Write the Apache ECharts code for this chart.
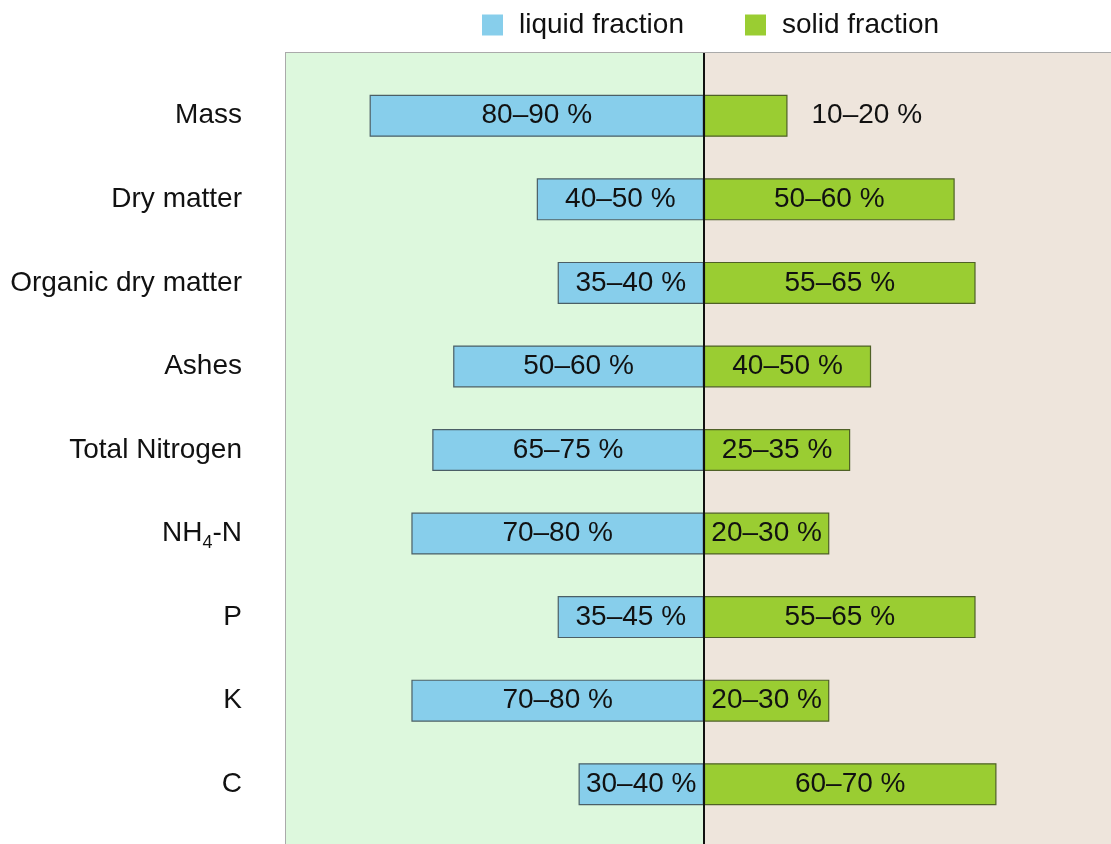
<!DOCTYPE html>
<html>
<head>
<meta charset="utf-8">
<script src="https://cdn.jsdelivr.net/npm/echarts@6/dist/echarts.min.js"></script>
<style>
  html, body { margin: 0; padding: 0; background: #fff; }
  #chart { width: 1111px; height: 844px; }
</style>
</head>
<body>
<div id="chart"></div>
<script>
  // categories, top to bottom
  var categories = ['Mass', 'Dry matter', 'Organic dry matter', 'Ashes', 'Total Nitrogen', 'NH4-N', 'P', 'K', 'C'];
  // bar lengths in % (liquid drawn to the left)
  var liquidValues = [80, 40, 35, 60, 65, 70, 35, 70, 30];
  var solidValues = [20, 60, 65, 40, 35, 30, 65, 30, 70];
  // range labels printed on the bars
  var liquidLabels = ['80–90 %', '40–50 %', '35–40 %', '50–60 %', '65–75 %', '70–80 %', '35–45 %', '70–80 %', '30–40 %'];
  var solidLabels = ['10–20 %', '50–60 %', '55–65 %', '40–50 %', '25–35 %', '20–30 %', '55–65 %', '20–30 %', '60–70 %'];

  var font = 'Liberation Sans, Arial, sans-serif';
  var fs = 28;
  var xMax = 97.4; // right panel is cut by the page edge
  var myChart = echarts.init(document.getElementById('chart'));

  var liquidData = liquidValues.map(function (v, i) {
    return { value: -v, label: { formatter: liquidLabels[i] } };
  });
  var solidData = solidValues.map(function (v, i) {
    var d = { value: v, label: { formatter: solidLabels[i] } };
    if (v < 25) { d.label.position = 'right'; d.label.distance = 24; } // too short for text
    return d;
  });

  var option = {
    animation: false,
    textStyle: { fontFamily: font },
    legend: {
      left: 477,
      top: 6,
      itemWidth: 21,
      itemHeight: 21,
      itemGap: 61,
      icon: 'rect',
      itemStyle: { borderWidth: 0 },
      textStyle: { fontSize: fs, color: '#111', fontFamily: font, padding: [0, 0, 0, 11] },
      data: ['liquid fraction', 'solid fraction']
    },
    grid: [
      // panel background
      { left: 286, top: 53, right: 0, bottom: -10, show: true, borderColor: '#aaaaaa', borderWidth: 2 },
      // bars
      { left: 286, top: 74, right: 0, height: 752 }
    ],
    xAxis: [
      { gridIndex: 0, type: 'value', min: -100, max: xMax, show: false },
      { gridIndex: 1, type: 'value', min: -100, max: xMax, show: false }
    ],
    yAxis: [
      { gridIndex: 0, type: 'value', min: 0, max: 1, show: false },
      {
        gridIndex: 1,
        type: 'category',
        inverse: true,
        data: categories,
        axisLine: { show: false },
        axisTick: { show: false },
        axisLabel: {
          margin: 44,
          fontSize: fs,
          color: '#111',
          fontFamily: font,
          formatter: function (val) {
            if (val === 'NH4-N') return '{a|NH}{sub|4}{a|-N}';
            return val;
          },
          rich: {
            a: { fontSize: fs, color: '#111', fontFamily: font },
            sub: { fontSize: 18, color: '#111', fontFamily: font, padding: [18, 0, 0, 0] }
          }
        }
      }
    ],
    series: [
      {
        type: 'line',
        xAxisIndex: 0,
        yAxisIndex: 0,
        data: [],
        silent: true,
        z: 0,
        markArea: {
          silent: true,
          data: [
            [{ xAxis: -100, itemStyle: { color: '#ddf8dd' } }, { xAxis: 0 }],
            [{ xAxis: 0, itemStyle: { color: '#eee5dc' } }, { xAxis: xMax }]
          ]
        },
        markLine: {
          silent: true,
          symbol: 'none',
          label: { show: false },
          lineStyle: { color: '#111', width: 2, type: 'solid' },
          data: [{ xAxis: 0 }]
        }
      },
      {
        name: 'liquid fraction',
        type: 'bar',
        xAxisIndex: 1,
        yAxisIndex: 1,
        stack: 'all',
        barWidth: 42,
        data: liquidData,
        itemStyle: { color: '#87ceeb', borderColor: '#4b5f66', borderWidth: 1.2 },
        label: { show: true, position: 'inside', fontSize: fs, color: '#111', fontFamily: font }
      },
      {
        name: 'solid fraction',
        type: 'bar',
        xAxisIndex: 1,
        yAxisIndex: 1,
        stack: 'all',
        barWidth: 42,
        data: solidData,
        itemStyle: { color: '#9acd32', borderColor: '#4f6126', borderWidth: 1.2 },
        label: { show: true, position: 'inside', fontSize: fs, color: '#111', fontFamily: font }
      }
    ]
  };

  myChart.setOption(option);
  window.addEventListener('resize', function () {
    myChart.resize();
  });
</script>
</body>
</html>
